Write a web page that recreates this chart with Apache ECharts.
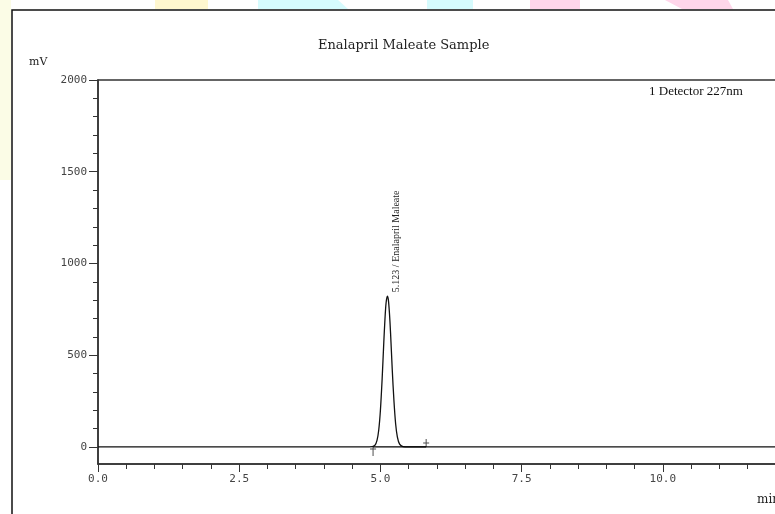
<!DOCTYPE html>
<html>
<head>
<meta charset="utf-8">
<title>Enalapril Maleate Sample</title>
<script src="https://cdn.jsdelivr.net/npm/echarts@6/dist/echarts.min.js"></script>
<style>
    html, body { margin: 0; padding: 0; background: #fff; }
    #chart { width: 775px; height: 514px; }
</style>
</head>
<body>
<div id="chart"></div>
<script>
// chromatogram trace (min, mV)
const signalTime = [0, 4.80, 4.90, 4.94, 4.97, 5.00, 5.03, 5.06, 5.08, 5.10, 5.123, 5.14, 5.16, 5.18, 5.21, 5.24, 5.27, 5.30, 5.34, 5.40, 5.50, 12.5]
const signalMv = [0, 0, 8, 36, 91, 199, 366, 569, 692, 783, 822, 804, 730, 620, 420, 250, 125, 55, 15, 2, 0, 0]

// peak
const peakTime = 5.123
const peakHeight = 822
const peakName = 'Enalapril Maleate'
// integration start / end marks
const markTimes = [4.87, 5.81]

// axis ticks
const yLabels = [0, 500, 1000, 1500, 2000]
const yMinor = [0, 100, 200, 300, 400, 500, 600, 700, 800, 900, 1000, 1100, 1200, 1300, 1400, 1500, 1600, 1700, 1800, 1900, 2000]

const chart = echarts.init(document.getElementById('chart'))

const axisColor = '#333'
const tickFont = { fontFamily: 'DejaVu Sans Mono', fontSize: 11, color: '#444' }
const serif = 'DejaVu Serif'

const option = {
    animation: false,
    backgroundColor: '#fff',
    title: [
        { text: 'Enalapril Maleate Sample', left: 313, top: 34, textStyle: { fontFamily: serif, fontSize: 13, fontWeight: 'normal', color: '#222' } },
        { text: 'mV', left: 24, top: 52, textStyle: { fontFamily: serif, fontSize: 11, fontWeight: 'normal', color: '#222' } },
        { text: '1 Detector 227nm', left: 644, top: 80, textStyle: { fontFamily: 'Liberation Serif', fontSize: 13, fontWeight: 'normal', color: '#111' } },
        { text: 'min', left: 752, top: 489, textStyle: { fontFamily: serif, fontSize: 12, fontWeight: 'normal', color: '#222' } }
    ],
    graphic: [
        // watermark bits peeking out above the frame
        { type: 'rect', z: -10, shape: { x: 0, y: 0, width: 11, height: 180 }, style: { fill: '#fbfce6' } },
        { type: 'rect', z: -10, shape: { x: 155, y: 0, width: 53, height: 9 }, style: { fill: '#fff7cf' } },
        { type: 'polygon', z: -10, shape: { points: [[258, 0], [338, 0], [348, 9], [258, 9]] }, style: { fill: '#d6fbfd' } },
        { type: 'rect', z: -10, shape: { x: 427, y: 0, width: 46, height: 9 }, style: { fill: '#d6fbfd' } },
        { type: 'rect', z: -10, shape: { x: 530, y: 0, width: 50, height: 9 }, style: { fill: '#ffd6ea' } },
        { type: 'polygon', z: -10, shape: { points: [[665, 0], [728, 0], [733, 9], [682, 9]] }, style: { fill: '#ffd6ea' } },
        // page frame
        { type: 'rect', z: 10, shape: { x: 12, y: 10, width: 800, height: 600 }, style: { fill: 'none', stroke: '#111', lineWidth: 1.5 } }
    ],
    grid: {
        left: 98,
        top: 80,
        bottom: 50,
        width: 706,
        outerBoundsMode: 'none',
        containLabel: false,
        show: true,
        borderColor: axisColor,
        borderWidth: 1.5,
        backgroundColor: 'transparent'
    },
    xAxis: {
        type: 'value',
        min: 0,
        max: 12.5,
        interval: 2.5,
        axisLine: { onZero: false, lineStyle: { color: axisColor, width: 1.5 } },
        axisTick: { length: 8, lineStyle: { color: axisColor } },
        minorTick: { show: true, splitNumber: 5, length: 5, lineStyle: { color: axisColor } },
        axisLabel: { ...tickFont, margin: 10, formatter: v => v.toFixed(1) },
        splitLine: { show: false }
    },
    yAxis: [
        {
            type: 'value',
            position: 'left',
            min: -93,
            max: 2000,
            axisLine: { show: true, lineStyle: { color: axisColor, width: 1.5 } },
            axisTick: { show: true, length: 9, customValues: yLabels, lineStyle: { color: axisColor } },
            axisLabel: { ...tickFont, margin: 11, customValues: yLabels, formatter: v => String(v) },
            splitLine: { show: false }
        },
        {
            type: 'value',
            position: 'left',
            min: -93,
            max: 2000,
            axisLine: { show: false },
            axisTick: { show: true, length: 5, customValues: yMinor, lineStyle: { color: axisColor } },
            axisLabel: { show: false },
            splitLine: { show: false }
        }
    ],
    series: [
        {
            name: 'Detector 227nm',
            type: 'line',
            yAxisIndex: 0,
            data: signalTime.map((t, i) => [t, signalMv[i]]),
            smooth: 0.3,
            symbol: 'none',
            lineStyle: { color: '#111', width: 1.3 },
            markPoint: {
                symbol: 'circle',
                symbolSize: 1,
                itemStyle: { color: 'rgba(0,0,0,0)' },
                label: {
                    show: true,
                    position: 'right',
                    distance: 9,
                    rotate: 90,
                    offset: [4, 0],
                    formatter: peakTime.toFixed(3) + ' / ' + peakName,
                    fontFamily: 'Liberation Serif',
                    fontSize: 10,
                    color: '#222'
                },
                data: [{ coord: [peakTime, peakHeight] }]
            }
        },
        {
            // integration baseline
            name: 'baseline',
            type: 'line',
            yAxisIndex: 0,
            data: markTimes.map(t => [t, 0]),
            symbol: 'none',
            lineStyle: { color: '#000', width: 1.2 }
        },
        {
            name: 'start',
            type: 'scatter',
            yAxisIndex: 0,
            data: [[markTimes[0], 0]],
            symbol: 'path://M2.5,0 h1 v9 h-1 Z M0,1.5 h6 v1 h-6 Z',
            symbolSize: [6, 9],
            symbolOffset: [0, 4.5],
            itemStyle: { color: '#222' }
        },
        {
            name: 'end',
            type: 'scatter',
            yAxisIndex: 0,
            data: [[markTimes[1], 0]],
            symbol: 'path://M2.5,0 h1 v8 h-1 Z M0,3.5 h6 v1 h-6 Z',
            symbolSize: [6, 8],
            symbolOffset: [0, -4],
            itemStyle: { color: '#222' }
        }
    ]
}

chart.setOption(option)

window.addEventListener('resize', function () {
    chart.resize()
})
</script>
</body>
</html>
